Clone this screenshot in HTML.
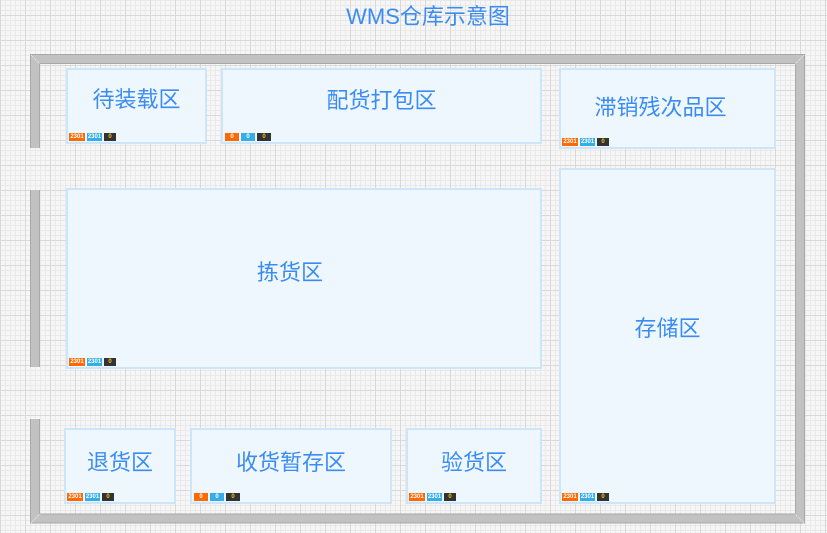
<!DOCTYPE html>
<html><head><meta charset="utf-8">
<style>
html,body{margin:0;padding:0;}
body{width:827px;height:533px;position:relative;overflow:hidden;
background-color:#f6f6f6;
background-image:
 linear-gradient(#d9d9d9 1px, transparent 1px),
 linear-gradient(90deg, #d9d9d9 1px, transparent 1px),
 linear-gradient(#e9e9e9 1px, transparent 1px),
 linear-gradient(90deg, #e9e9e9 1px, transparent 1px);
background-size:25px 25px,25px 25px,5px 5px,5px 5px;
background-position:0 15px,0 0,0 0,0 0;
font-family:"Liberation Sans","Noto Sans CJK SC",sans-serif;}
.title{position:absolute;left:0;width:856px;top:5px;text-align:center;font-size:22px;line-height:24px;color:#3b8cf2;}
.box{position:absolute;box-sizing:border-box;border:2px solid #cce5f8;background:#eff7fe;}
.lbl{position:absolute;left:0;right:0;text-align:center;font-size:22px;line-height:22px;color:#3b8cf2;white-space:nowrap;}
.bd{position:absolute;left:1px;bottom:1px;height:8px;display:flex;gap:2px;}
.bd span{display:block;height:8px;font-size:6px;font-weight:bold;line-height:8px;text-align:center;color:#fff;font-family:"Liberation Sans",sans-serif;}
.o{background:#ff6a00;width:16px;}
.b{background:#35ade6;width:15px;}
.k{background:#333;width:12px;color:#f5c518 !important;}
.z .o,.z .b,.z .k{width:14px;}
svg{position:absolute;left:0;top:0;}
</style></head><body>
<div class="title">WMS仓库示意图</div>
<svg width="827" height="533">
<g fill="none" stroke-linejoin="miter" stroke-linecap="butt">
<polyline points="35,148 35,59 800,59 800,518.5 35,518.5 35,419" stroke="#a8a8a8" stroke-width="10"/>
<polyline points="35,148 35,59 800,59 800,518.5 35,518.5 35,419" stroke="#c2c2c2" stroke-width="8"/>
<line x1="35" y1="190" x2="35" y2="367" stroke="#a8a8a8" stroke-width="10"/>
<line x1="35" y1="190" x2="35" y2="367" stroke="#c2c2c2" stroke-width="8"/>
<line x1="31" y1="55" x2="40" y2="64" stroke="#ffffff" stroke-width="1" stroke-dasharray="1,1" opacity="0.7"/>
<line x1="804" y1="55" x2="795" y2="64" stroke="#ffffff" stroke-width="1" stroke-dasharray="1,1" opacity="0.7"/>
<line x1="31" y1="523" x2="40" y2="514" stroke="#ffffff" stroke-width="1" stroke-dasharray="1,1" opacity="0.7"/>
<line x1="804" y1="523" x2="795" y2="514" stroke="#ffffff" stroke-width="1" stroke-dasharray="1,1" opacity="0.7"/>
</g>
</svg>

<div class="box" style="left:66px;top:68px;width:141px;height:76px;">
 <div class="lbl" style="top:19px;">待装载区</div>
 <div class="bd"><span class="o">2301</span><span class="b">2301</span><span class="k">0</span></div>
</div>
<div class="box" style="left:221px;top:68px;width:321px;height:76px;">
 <div class="lbl" style="top:20px;">配货打包区</div>
 <div class="bd z" style="left:2px;"><span class="o">0</span><span class="b">0</span><span class="k">0</span></div>
</div>
<div class="box" style="left:559px;top:68px;width:217px;height:81px;">
 <div class="lbl" style="top:27px;right:14px;">滞销残次品区</div>
 <div class="bd" style="bottom:1px;"><span class="o">2301</span><span class="b">2301</span><span class="k">0</span></div>
</div>
<div class="box" style="left:66px;top:188px;width:476px;height:181px;">
 <div class="lbl" style="top:72px;right:28px;">拣货区</div>
 <div class="bd"><span class="o">2301</span><span class="b">2301</span><span class="k">0</span></div>
</div>
<div class="box" style="left:559px;top:168px;width:217px;height:336px;">
 <div class="lbl" style="top:148px;">存储区</div>
 <div class="bd"><span class="o">2301</span><span class="b">2301</span><span class="k">0</span></div>
</div>
<div class="box" style="left:64px;top:428px;width:112px;height:76px;">
 <div class="lbl" style="top:22px;">退货区</div>
 <div class="bd"><span class="o">2301</span><span class="b">2301</span><span class="k">0</span></div>
</div>
<div class="box" style="left:190px;top:428px;width:202px;height:76px;">
 <div class="lbl" style="top:22px;">收货暂存区</div>
 <div class="bd z" style="left:2px;"><span class="o">0</span><span class="b">0</span><span class="k">0</span></div>
</div>
<div class="box" style="left:406px;top:428px;width:136px;height:76px;">
 <div class="lbl" style="top:22px;">验货区</div>
 <div class="bd"><span class="o">2301</span><span class="b">2301</span><span class="k">0</span></div>
</div>
</body></html>
